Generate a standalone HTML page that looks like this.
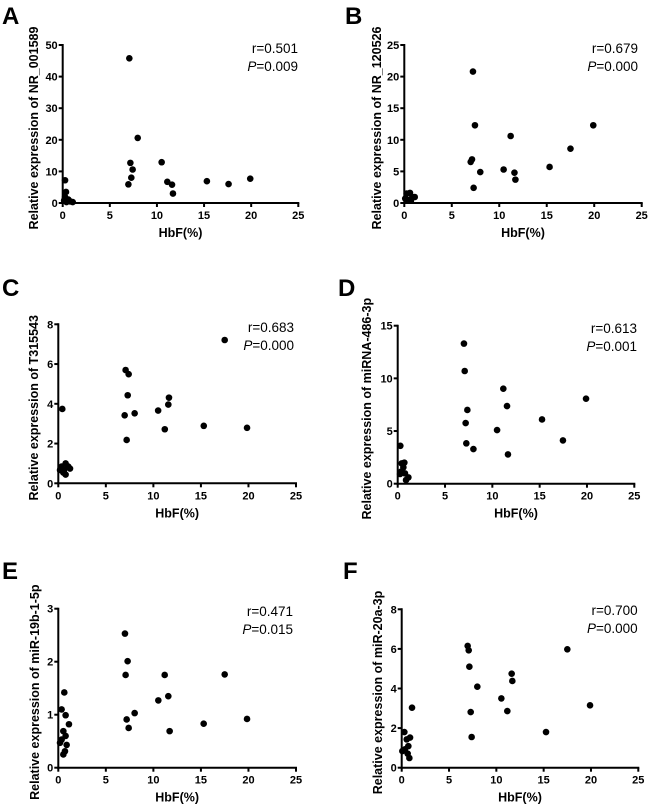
<!DOCTYPE html>
<html><head><meta charset="utf-8"><style>
html,body{margin:0;padding:0;background:#fff;}
svg{display:block;font-family:"Liberation Sans",Arial,sans-serif;}
</style></head><body>
<svg id="fig" width="650" height="811" viewBox="0 0 650 811"></svg>
<script>
const xTicks=[0,5,10,15,20,25];
const aX=[7.07,7.96,7.18,10.5,7.42,7.28,6.97,11.1,11.6,11.7,15.3,17.6,19.9,0.25,0.35,0.25,0.6,0.8,1.06,0.4,0.15];
const aY=[45.8,20.6,12.7,12.9,10.6,8.0,5.9,6.7,5.8,3.0,6.9,6.0,7.7,7.2,3.5,1.9,1.1,0.5,0.3,0.3,0.8];
const aTicks=[0,10,20,30,40,50];
const bX=[7.23,7.44,11.2,19.9,17.5,15.3,7.13,6.99,8.0,10.46,11.6,11.7,7.3,0.25,0.6,0.84,1.1,0.35,0.7,0.1];
const bY=[20.8,12.3,10.6,12.3,8.6,5.7,6.9,6.5,4.9,5.3,4.8,3.7,2.4,1.5,1.6,0.95,0.95,0.5,0.4,0.7];
const bTicks=[0,5,10,15,20,25];
const cX=[17.5,7.08,7.4,7.3,6.98,8.03,10.5,11.64,11.57,11.2,15.3,19.85,7.19,0.42,0.35,0.77,1.05,1.23,0.6,0.77,0.18,0.53];
const cY=[7.21,5.7,5.49,4.43,3.42,3.52,3.66,4.31,3.96,2.72,2.89,2.79,2.18,3.74,0.84,1.0,0.84,0.74,0.67,0.44,0.67,0.54];
const cTicks=[0,2,4,6,8];
const dX=[7.0,7.08,7.36,7.18,7.25,8.0,10.5,11.16,11.55,11.65,15.25,17.46,19.9,0.28,0.42,0.7,0.6,0.35,0.77,1.13,0.88,0.25];
const dY=[13.3,10.7,7.0,5.76,3.83,3.29,5.09,9.02,7.37,2.78,6.1,4.11,8.07,3.6,1.93,2.0,1.55,1.14,0.98,0.6,0.35,0.92];
const dTicks=[0,5,10,15];
const eX=[7.01,7.29,7.08,7.19,7.4,8.03,10.52,11.19,11.57,11.71,15.29,17.5,19.85,0.63,0.35,0.77,1.12,0.53,0.77,0.35,0.88,0.7,0.18,0.53];
const eY=[2.53,2.01,1.75,0.91,0.75,1.03,1.27,1.75,1.35,0.69,0.83,1.76,0.92,1.42,1.1,0.99,0.82,0.69,0.6,0.53,0.43,0.31,0.47,0.25];
const eTicks=[0,1,2,3];
const fX=[6.97,7.08,7.15,7.99,7.29,7.39,10.53,11.16,11.62,11.69,15.25,17.5,19.9,1.09,0.28,0.88,0.53,0.7,0.35,0.63,0.81,0.07];
const fY=[6.15,5.93,5.1,4.09,2.81,1.55,3.5,2.86,4.75,4.38,1.8,5.98,3.15,3.03,1.8,1.52,1.43,1.09,0.93,0.71,0.49,0.84];
const fTicks=[0,2,4,6,8];

const panels=[
 {id:'a',letter:'A',lx:2,ly:24,x0:62.7,x1:298.3,y0:203,y1:45,xs:aX,ys:aY,yt:aTicks,title:'Relative expression of NR_001589',tx:38,r:'0.501',p:'0.009',rx:298,rb:53},
 {id:'b',letter:'B',lx:345,ly:24,x0:404.3,x1:641.7,y0:203,y1:45,xs:bX,ys:bY,yt:bTicks,title:'Relative expression of NR_120526',tx:381,r:'0.679',p:'0.000',rx:638,rb:53},
 {id:'c',letter:'C',lx:2,ly:296,x0:58.3,x1:296,y0:483.3,y1:324.3,xs:cX,ys:cY,yt:cTicks,title:'Relative expression of T315543',tx:38,r:'0.683',p:'0.000',rx:294,rb:332},
 {id:'d',letter:'D',lx:338,ly:296,x0:397.7,x1:634.3,y0:483.7,y1:325.7,xs:dX,ys:dY,yt:dTicks,title:'Relative expression of miRNA-486-3p',tx:371,r:'0.613',p:'0.001',rx:637,rb:333},
 {id:'e',letter:'E',lx:2,ly:579,x0:58.3,x1:296,y0:767.7,y1:608.7,xs:eX,ys:eY,yt:eTicks,title:'Relative expression of miR-19b-1-5p',tx:39,r:'0.471',p:'0.015',rx:293,rb:616},
 {id:'f',letter:'F',lx:343,ly:579,x0:401.7,x1:638.3,y0:767.7,y1:609.3,xs:fX,ys:fY,yt:fTicks,title:'Relative expression of miR-20a-3p',tx:382,r:'0.700',p:'0.000',rx:637.7,rb:615}
];
const NS='http://www.w3.org/2000/svg';
const svg=document.getElementById('fig');
function mk(tag,attrs,parent,txt){const e=document.createElementNS(NS,tag);for(const k in attrs)e.setAttribute(k,attrs[k]);if(txt!==undefined)e.textContent=txt;parent.appendChild(e);return e;}
panels.forEach(P=>{
  const g=mk('g',{},svg);
  
  
  const yMax=P.yt[P.yt.length-1];
  const sx=v=>P.x0+(v/25)*(P.x1-P.x0);
  const sy=v=>P.y0-(v/yMax)*(P.y0-P.y1);
  const L=mk('text',{x:P.lx,y:P.ly,'font-size':24,'font-weight':'bold'},g,P.letter);
  
  
  const xa=mk('line',{x1:P.x0-1,y1:P.y0,x2:P.x1+1,y2:P.y0,stroke:'#000','stroke-width':2},g);
  
  
  const ya=mk('line',{x1:P.x0,y1:P.y0+1,x2:P.x0,y2:P.y1-1,stroke:'#000','stroke-width':2},g);
  
  
  xTicks.forEach(t=>{
    mk('line',{x1:sx(t),y1:P.y0,x2:sx(t),y2:P.y0+4,stroke:'#000','stroke-width':2},g);
    const tl=mk('text',{x:sx(t),y:P.y0+16,'font-size':11,'font-weight':'bold','text-anchor':'middle'},g,String(t));
    
    
  });
  P.yt.forEach(t=>{
    mk('line',{x1:P.x0-4,y1:sy(t),x2:P.x0,y2:sy(t),stroke:'#000','stroke-width':2},g);
    const tl=mk('text',{x:P.x0-5,y:sy(t)+4,'font-size':11,'font-weight':'bold','text-anchor':'end'},g,String(t));
    
    
  });
  const xt=mk('text',{x:(P.x0+P.x1)/2,y:P.y0+34,'font-size':12.5,'font-weight':'bold','text-anchor':'middle'},g,'HbF(%)');
  
  
  const cy=(P.y0+P.y1)/2+4;
  const yt=mk('text',{x:P.tx,y:cy,'font-size':12.5,'font-weight':'bold','text-anchor':'middle',transform:'rotate(-90 '+P.tx+' '+cy+')'},g,P.title);
  
  
  const rt=mk('text',{x:P.rx,y:P.rb,'font-size':13.5,'text-anchor':'end'},g,'r='+P.r);
  
  
  const pt=mk('text',{x:P.rx,y:P.rb+18,'font-size':13.5,'text-anchor':'end'},g);
  
  
  mk('tspan',{'font-style':'italic'},pt,'P');
  mk('tspan',{},pt,'='+P.p);
  P.xs.forEach((v,i)=>{
    const c=mk('circle',{cx:sx(v),cy:sy(P.ys[i]),r:3.3,fill:'#000'},g);
    
    
  });
});
</script>
</body></html>
